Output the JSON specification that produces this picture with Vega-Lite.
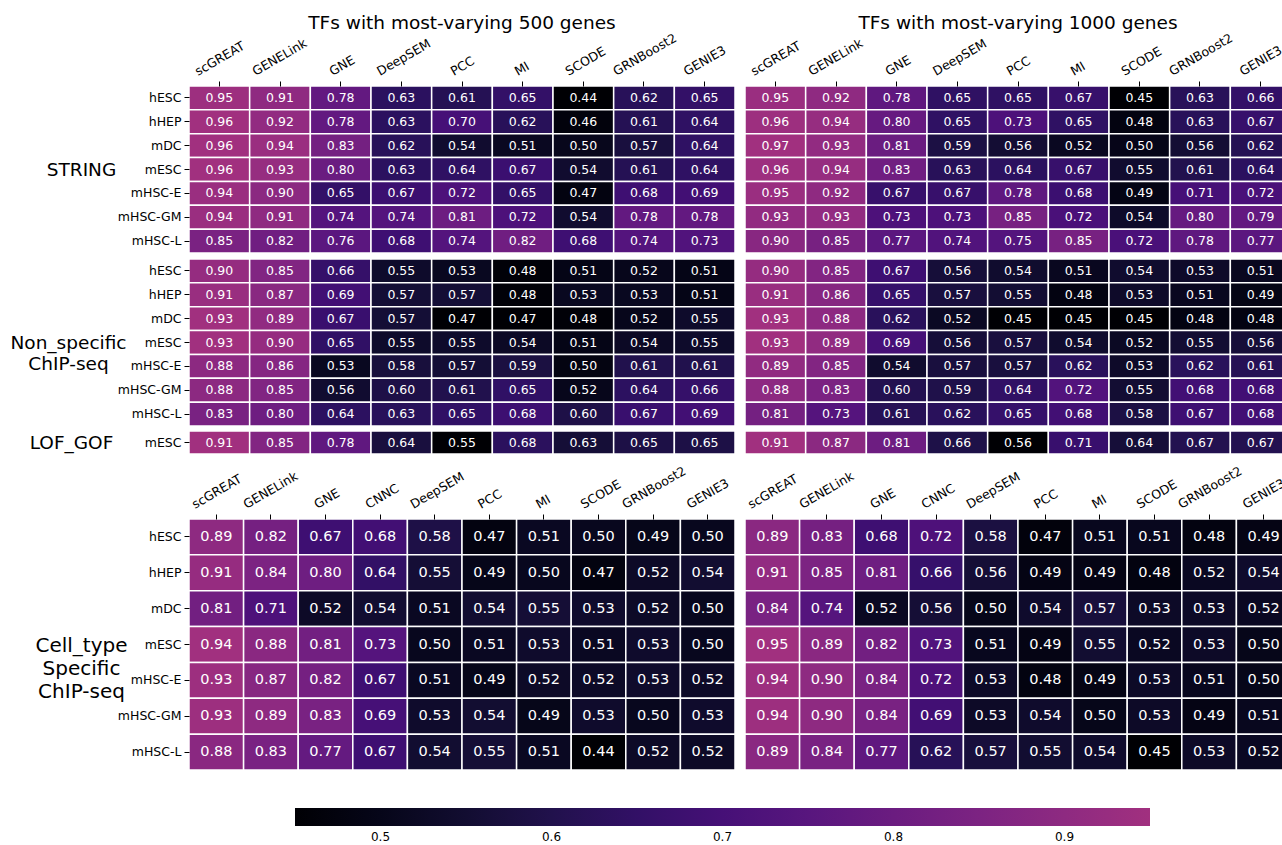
{
  "$schema": "https://vega.github.io/schema/vega-lite/v6.json",
  "padding": {"left": 9, "top": 13, "right": 0, "bottom": 0},
  "config": {
    "font": "DejaVu Sans",
    "view": {"stroke": null},
    "axis": {"domain": false, "grid": false, "tickColor": "#000", "labelColor": "#000", "tickSize": 5, "labelFontSize": 12.5, "labelPadding": 3, "titleFontWeight": "normal", "titleColor": "#000", "labelOverlap": false},
    "title": {"fontSize": 18.5, "fontWeight": "normal", "color": "#000"},
    "legend": {"labelColor": "#000"}
  },
  "datasets": {
    "s500": [
      {"c":"hESC","m":"scGREAT","v":0.95},{"c":"hESC","m":"GENELink","v":0.91},{"c":"hESC","m":"GNE","v":0.78},{"c":"hESC","m":"DeepSEM","v":0.63},{"c":"hESC","m":"PCC","v":0.61},{"c":"hESC","m":"MI","v":0.65},{"c":"hESC","m":"SCODE","v":0.44},{"c":"hESC","m":"GRNBoost2","v":0.62},{"c":"hESC","m":"GENIE3","v":0.65},
      {"c":"hHEP","m":"scGREAT","v":0.96},{"c":"hHEP","m":"GENELink","v":0.92},{"c":"hHEP","m":"GNE","v":0.78},{"c":"hHEP","m":"DeepSEM","v":0.63},{"c":"hHEP","m":"PCC","v":0.70},{"c":"hHEP","m":"MI","v":0.62},{"c":"hHEP","m":"SCODE","v":0.46},{"c":"hHEP","m":"GRNBoost2","v":0.61},{"c":"hHEP","m":"GENIE3","v":0.64},
      {"c":"mDC","m":"scGREAT","v":0.96},{"c":"mDC","m":"GENELink","v":0.94},{"c":"mDC","m":"GNE","v":0.83},{"c":"mDC","m":"DeepSEM","v":0.62},{"c":"mDC","m":"PCC","v":0.54},{"c":"mDC","m":"MI","v":0.51},{"c":"mDC","m":"SCODE","v":0.50},{"c":"mDC","m":"GRNBoost2","v":0.57},{"c":"mDC","m":"GENIE3","v":0.64},
      {"c":"mESC","m":"scGREAT","v":0.96},{"c":"mESC","m":"GENELink","v":0.93},{"c":"mESC","m":"GNE","v":0.80},{"c":"mESC","m":"DeepSEM","v":0.63},{"c":"mESC","m":"PCC","v":0.64},{"c":"mESC","m":"MI","v":0.67},{"c":"mESC","m":"SCODE","v":0.54},{"c":"mESC","m":"GRNBoost2","v":0.61},{"c":"mESC","m":"GENIE3","v":0.64},
      {"c":"mHSC-E","m":"scGREAT","v":0.94},{"c":"mHSC-E","m":"GENELink","v":0.90},{"c":"mHSC-E","m":"GNE","v":0.65},{"c":"mHSC-E","m":"DeepSEM","v":0.67},{"c":"mHSC-E","m":"PCC","v":0.72},{"c":"mHSC-E","m":"MI","v":0.65},{"c":"mHSC-E","m":"SCODE","v":0.47},{"c":"mHSC-E","m":"GRNBoost2","v":0.68},{"c":"mHSC-E","m":"GENIE3","v":0.69},
      {"c":"mHSC-GM","m":"scGREAT","v":0.94},{"c":"mHSC-GM","m":"GENELink","v":0.91},{"c":"mHSC-GM","m":"GNE","v":0.74},{"c":"mHSC-GM","m":"DeepSEM","v":0.74},{"c":"mHSC-GM","m":"PCC","v":0.81},{"c":"mHSC-GM","m":"MI","v":0.72},{"c":"mHSC-GM","m":"SCODE","v":0.54},{"c":"mHSC-GM","m":"GRNBoost2","v":0.78},{"c":"mHSC-GM","m":"GENIE3","v":0.78},
      {"c":"mHSC-L","m":"scGREAT","v":0.85},{"c":"mHSC-L","m":"GENELink","v":0.82},{"c":"mHSC-L","m":"GNE","v":0.76},{"c":"mHSC-L","m":"DeepSEM","v":0.68},{"c":"mHSC-L","m":"PCC","v":0.74},{"c":"mHSC-L","m":"MI","v":0.82},{"c":"mHSC-L","m":"SCODE","v":0.68},{"c":"mHSC-L","m":"GRNBoost2","v":0.74},{"c":"mHSC-L","m":"GENIE3","v":0.73}
    ],
    "s1000": [
      {"c":"hESC","m":"scGREAT","v":0.95},{"c":"hESC","m":"GENELink","v":0.92},{"c":"hESC","m":"GNE","v":0.78},{"c":"hESC","m":"DeepSEM","v":0.65},{"c":"hESC","m":"PCC","v":0.65},{"c":"hESC","m":"MI","v":0.67},{"c":"hESC","m":"SCODE","v":0.45},{"c":"hESC","m":"GRNBoost2","v":0.63},{"c":"hESC","m":"GENIE3","v":0.66},
      {"c":"hHEP","m":"scGREAT","v":0.96},{"c":"hHEP","m":"GENELink","v":0.94},{"c":"hHEP","m":"GNE","v":0.80},{"c":"hHEP","m":"DeepSEM","v":0.65},{"c":"hHEP","m":"PCC","v":0.73},{"c":"hHEP","m":"MI","v":0.65},{"c":"hHEP","m":"SCODE","v":0.48},{"c":"hHEP","m":"GRNBoost2","v":0.63},{"c":"hHEP","m":"GENIE3","v":0.67},
      {"c":"mDC","m":"scGREAT","v":0.97},{"c":"mDC","m":"GENELink","v":0.93},{"c":"mDC","m":"GNE","v":0.81},{"c":"mDC","m":"DeepSEM","v":0.59},{"c":"mDC","m":"PCC","v":0.56},{"c":"mDC","m":"MI","v":0.52},{"c":"mDC","m":"SCODE","v":0.50},{"c":"mDC","m":"GRNBoost2","v":0.56},{"c":"mDC","m":"GENIE3","v":0.62},
      {"c":"mESC","m":"scGREAT","v":0.96},{"c":"mESC","m":"GENELink","v":0.94},{"c":"mESC","m":"GNE","v":0.83},{"c":"mESC","m":"DeepSEM","v":0.63},{"c":"mESC","m":"PCC","v":0.64},{"c":"mESC","m":"MI","v":0.67},{"c":"mESC","m":"SCODE","v":0.55},{"c":"mESC","m":"GRNBoost2","v":0.61},{"c":"mESC","m":"GENIE3","v":0.64},
      {"c":"mHSC-E","m":"scGREAT","v":0.95},{"c":"mHSC-E","m":"GENELink","v":0.92},{"c":"mHSC-E","m":"GNE","v":0.67},{"c":"mHSC-E","m":"DeepSEM","v":0.67},{"c":"mHSC-E","m":"PCC","v":0.78},{"c":"mHSC-E","m":"MI","v":0.68},{"c":"mHSC-E","m":"SCODE","v":0.49},{"c":"mHSC-E","m":"GRNBoost2","v":0.71},{"c":"mHSC-E","m":"GENIE3","v":0.72},
      {"c":"mHSC-GM","m":"scGREAT","v":0.93},{"c":"mHSC-GM","m":"GENELink","v":0.93},{"c":"mHSC-GM","m":"GNE","v":0.73},{"c":"mHSC-GM","m":"DeepSEM","v":0.73},{"c":"mHSC-GM","m":"PCC","v":0.85},{"c":"mHSC-GM","m":"MI","v":0.72},{"c":"mHSC-GM","m":"SCODE","v":0.54},{"c":"mHSC-GM","m":"GRNBoost2","v":0.80},{"c":"mHSC-GM","m":"GENIE3","v":0.79},
      {"c":"mHSC-L","m":"scGREAT","v":0.90},{"c":"mHSC-L","m":"GENELink","v":0.85},{"c":"mHSC-L","m":"GNE","v":0.77},{"c":"mHSC-L","m":"DeepSEM","v":0.74},{"c":"mHSC-L","m":"PCC","v":0.75},{"c":"mHSC-L","m":"MI","v":0.85},{"c":"mHSC-L","m":"SCODE","v":0.72},{"c":"mHSC-L","m":"GRNBoost2","v":0.78},{"c":"mHSC-L","m":"GENIE3","v":0.77}
    ],
    "n500": [
      {"c":"hESC","m":"scGREAT","v":0.90},{"c":"hESC","m":"GENELink","v":0.85},{"c":"hESC","m":"GNE","v":0.66},{"c":"hESC","m":"DeepSEM","v":0.55},{"c":"hESC","m":"PCC","v":0.53},{"c":"hESC","m":"MI","v":0.48},{"c":"hESC","m":"SCODE","v":0.51},{"c":"hESC","m":"GRNBoost2","v":0.52},{"c":"hESC","m":"GENIE3","v":0.51},
      {"c":"hHEP","m":"scGREAT","v":0.91},{"c":"hHEP","m":"GENELink","v":0.87},{"c":"hHEP","m":"GNE","v":0.69},{"c":"hHEP","m":"DeepSEM","v":0.57},{"c":"hHEP","m":"PCC","v":0.57},{"c":"hHEP","m":"MI","v":0.48},{"c":"hHEP","m":"SCODE","v":0.53},{"c":"hHEP","m":"GRNBoost2","v":0.53},{"c":"hHEP","m":"GENIE3","v":0.51},
      {"c":"mDC","m":"scGREAT","v":0.93},{"c":"mDC","m":"GENELink","v":0.89},{"c":"mDC","m":"GNE","v":0.67},{"c":"mDC","m":"DeepSEM","v":0.57},{"c":"mDC","m":"PCC","v":0.47},{"c":"mDC","m":"MI","v":0.47},{"c":"mDC","m":"SCODE","v":0.48},{"c":"mDC","m":"GRNBoost2","v":0.52},{"c":"mDC","m":"GENIE3","v":0.55},
      {"c":"mESC","m":"scGREAT","v":0.93},{"c":"mESC","m":"GENELink","v":0.90},{"c":"mESC","m":"GNE","v":0.65},{"c":"mESC","m":"DeepSEM","v":0.55},{"c":"mESC","m":"PCC","v":0.55},{"c":"mESC","m":"MI","v":0.54},{"c":"mESC","m":"SCODE","v":0.51},{"c":"mESC","m":"GRNBoost2","v":0.54},{"c":"mESC","m":"GENIE3","v":0.55},
      {"c":"mHSC-E","m":"scGREAT","v":0.88},{"c":"mHSC-E","m":"GENELink","v":0.86},{"c":"mHSC-E","m":"GNE","v":0.53},{"c":"mHSC-E","m":"DeepSEM","v":0.58},{"c":"mHSC-E","m":"PCC","v":0.57},{"c":"mHSC-E","m":"MI","v":0.59},{"c":"mHSC-E","m":"SCODE","v":0.50},{"c":"mHSC-E","m":"GRNBoost2","v":0.61},{"c":"mHSC-E","m":"GENIE3","v":0.61},
      {"c":"mHSC-GM","m":"scGREAT","v":0.88},{"c":"mHSC-GM","m":"GENELink","v":0.85},{"c":"mHSC-GM","m":"GNE","v":0.56},{"c":"mHSC-GM","m":"DeepSEM","v":0.60},{"c":"mHSC-GM","m":"PCC","v":0.61},{"c":"mHSC-GM","m":"MI","v":0.65},{"c":"mHSC-GM","m":"SCODE","v":0.52},{"c":"mHSC-GM","m":"GRNBoost2","v":0.64},{"c":"mHSC-GM","m":"GENIE3","v":0.66},
      {"c":"mHSC-L","m":"scGREAT","v":0.83},{"c":"mHSC-L","m":"GENELink","v":0.80},{"c":"mHSC-L","m":"GNE","v":0.64},{"c":"mHSC-L","m":"DeepSEM","v":0.63},{"c":"mHSC-L","m":"PCC","v":0.65},{"c":"mHSC-L","m":"MI","v":0.68},{"c":"mHSC-L","m":"SCODE","v":0.60},{"c":"mHSC-L","m":"GRNBoost2","v":0.67},{"c":"mHSC-L","m":"GENIE3","v":0.69}
    ],
    "n1000": [
      {"c":"hESC","m":"scGREAT","v":0.90},{"c":"hESC","m":"GENELink","v":0.85},{"c":"hESC","m":"GNE","v":0.67},{"c":"hESC","m":"DeepSEM","v":0.56},{"c":"hESC","m":"PCC","v":0.54},{"c":"hESC","m":"MI","v":0.51},{"c":"hESC","m":"SCODE","v":0.54},{"c":"hESC","m":"GRNBoost2","v":0.53},{"c":"hESC","m":"GENIE3","v":0.51},
      {"c":"hHEP","m":"scGREAT","v":0.91},{"c":"hHEP","m":"GENELink","v":0.86},{"c":"hHEP","m":"GNE","v":0.65},{"c":"hHEP","m":"DeepSEM","v":0.57},{"c":"hHEP","m":"PCC","v":0.55},{"c":"hHEP","m":"MI","v":0.48},{"c":"hHEP","m":"SCODE","v":0.53},{"c":"hHEP","m":"GRNBoost2","v":0.51},{"c":"hHEP","m":"GENIE3","v":0.49},
      {"c":"mDC","m":"scGREAT","v":0.93},{"c":"mDC","m":"GENELink","v":0.88},{"c":"mDC","m":"GNE","v":0.62},{"c":"mDC","m":"DeepSEM","v":0.52},{"c":"mDC","m":"PCC","v":0.45},{"c":"mDC","m":"MI","v":0.45},{"c":"mDC","m":"SCODE","v":0.45},{"c":"mDC","m":"GRNBoost2","v":0.48},{"c":"mDC","m":"GENIE3","v":0.48},
      {"c":"mESC","m":"scGREAT","v":0.93},{"c":"mESC","m":"GENELink","v":0.89},{"c":"mESC","m":"GNE","v":0.69},{"c":"mESC","m":"DeepSEM","v":0.56},{"c":"mESC","m":"PCC","v":0.57},{"c":"mESC","m":"MI","v":0.54},{"c":"mESC","m":"SCODE","v":0.52},{"c":"mESC","m":"GRNBoost2","v":0.55},{"c":"mESC","m":"GENIE3","v":0.56},
      {"c":"mHSC-E","m":"scGREAT","v":0.89},{"c":"mHSC-E","m":"GENELink","v":0.85},{"c":"mHSC-E","m":"GNE","v":0.54},{"c":"mHSC-E","m":"DeepSEM","v":0.57},{"c":"mHSC-E","m":"PCC","v":0.57},{"c":"mHSC-E","m":"MI","v":0.62},{"c":"mHSC-E","m":"SCODE","v":0.53},{"c":"mHSC-E","m":"GRNBoost2","v":0.62},{"c":"mHSC-E","m":"GENIE3","v":0.61},
      {"c":"mHSC-GM","m":"scGREAT","v":0.88},{"c":"mHSC-GM","m":"GENELink","v":0.83},{"c":"mHSC-GM","m":"GNE","v":0.60},{"c":"mHSC-GM","m":"DeepSEM","v":0.59},{"c":"mHSC-GM","m":"PCC","v":0.64},{"c":"mHSC-GM","m":"MI","v":0.72},{"c":"mHSC-GM","m":"SCODE","v":0.55},{"c":"mHSC-GM","m":"GRNBoost2","v":0.68},{"c":"mHSC-GM","m":"GENIE3","v":0.68},
      {"c":"mHSC-L","m":"scGREAT","v":0.81},{"c":"mHSC-L","m":"GENELink","v":0.73},{"c":"mHSC-L","m":"GNE","v":0.61},{"c":"mHSC-L","m":"DeepSEM","v":0.62},{"c":"mHSC-L","m":"PCC","v":0.65},{"c":"mHSC-L","m":"MI","v":0.68},{"c":"mHSC-L","m":"SCODE","v":0.58},{"c":"mHSC-L","m":"GRNBoost2","v":0.67},{"c":"mHSC-L","m":"GENIE3","v":0.68}
    ],
    "l500": [
      {"c":"mESC","m":"scGREAT","v":0.91},{"c":"mESC","m":"GENELink","v":0.85},{"c":"mESC","m":"GNE","v":0.78},{"c":"mESC","m":"DeepSEM","v":0.64},{"c":"mESC","m":"PCC","v":0.55},{"c":"mESC","m":"MI","v":0.68},{"c":"mESC","m":"SCODE","v":0.63},{"c":"mESC","m":"GRNBoost2","v":0.65},{"c":"mESC","m":"GENIE3","v":0.65}
    ],
    "l1000": [
      {"c":"mESC","m":"scGREAT","v":0.91},{"c":"mESC","m":"GENELink","v":0.87},{"c":"mESC","m":"GNE","v":0.81},{"c":"mESC","m":"DeepSEM","v":0.66},{"c":"mESC","m":"PCC","v":0.56},{"c":"mESC","m":"MI","v":0.71},{"c":"mESC","m":"SCODE","v":0.64},{"c":"mESC","m":"GRNBoost2","v":0.67},{"c":"mESC","m":"GENIE3","v":0.67}
    ],
    "c500": [
      {"c":"hESC","m":"scGREAT","v":0.89},{"c":"hESC","m":"GENELink","v":0.82},{"c":"hESC","m":"GNE","v":0.67},{"c":"hESC","m":"CNNC","v":0.68},{"c":"hESC","m":"DeepSEM","v":0.58},{"c":"hESC","m":"PCC","v":0.47},{"c":"hESC","m":"MI","v":0.51},{"c":"hESC","m":"SCODE","v":0.50},{"c":"hESC","m":"GRNBoost2","v":0.49},{"c":"hESC","m":"GENIE3","v":0.50},
      {"c":"hHEP","m":"scGREAT","v":0.91},{"c":"hHEP","m":"GENELink","v":0.84},{"c":"hHEP","m":"GNE","v":0.80},{"c":"hHEP","m":"CNNC","v":0.64},{"c":"hHEP","m":"DeepSEM","v":0.55},{"c":"hHEP","m":"PCC","v":0.49},{"c":"hHEP","m":"MI","v":0.50},{"c":"hHEP","m":"SCODE","v":0.47},{"c":"hHEP","m":"GRNBoost2","v":0.52},{"c":"hHEP","m":"GENIE3","v":0.54},
      {"c":"mDC","m":"scGREAT","v":0.81},{"c":"mDC","m":"GENELink","v":0.71},{"c":"mDC","m":"GNE","v":0.52},{"c":"mDC","m":"CNNC","v":0.54},{"c":"mDC","m":"DeepSEM","v":0.51},{"c":"mDC","m":"PCC","v":0.54},{"c":"mDC","m":"MI","v":0.55},{"c":"mDC","m":"SCODE","v":0.53},{"c":"mDC","m":"GRNBoost2","v":0.52},{"c":"mDC","m":"GENIE3","v":0.50},
      {"c":"mESC","m":"scGREAT","v":0.94},{"c":"mESC","m":"GENELink","v":0.88},{"c":"mESC","m":"GNE","v":0.81},{"c":"mESC","m":"CNNC","v":0.73},{"c":"mESC","m":"DeepSEM","v":0.50},{"c":"mESC","m":"PCC","v":0.51},{"c":"mESC","m":"MI","v":0.53},{"c":"mESC","m":"SCODE","v":0.51},{"c":"mESC","m":"GRNBoost2","v":0.53},{"c":"mESC","m":"GENIE3","v":0.50},
      {"c":"mHSC-E","m":"scGREAT","v":0.93},{"c":"mHSC-E","m":"GENELink","v":0.87},{"c":"mHSC-E","m":"GNE","v":0.82},{"c":"mHSC-E","m":"CNNC","v":0.67},{"c":"mHSC-E","m":"DeepSEM","v":0.51},{"c":"mHSC-E","m":"PCC","v":0.49},{"c":"mHSC-E","m":"MI","v":0.52},{"c":"mHSC-E","m":"SCODE","v":0.52},{"c":"mHSC-E","m":"GRNBoost2","v":0.53},{"c":"mHSC-E","m":"GENIE3","v":0.52},
      {"c":"mHSC-GM","m":"scGREAT","v":0.93},{"c":"mHSC-GM","m":"GENELink","v":0.89},{"c":"mHSC-GM","m":"GNE","v":0.83},{"c":"mHSC-GM","m":"CNNC","v":0.69},{"c":"mHSC-GM","m":"DeepSEM","v":0.53},{"c":"mHSC-GM","m":"PCC","v":0.54},{"c":"mHSC-GM","m":"MI","v":0.49},{"c":"mHSC-GM","m":"SCODE","v":0.53},{"c":"mHSC-GM","m":"GRNBoost2","v":0.50},{"c":"mHSC-GM","m":"GENIE3","v":0.53},
      {"c":"mHSC-L","m":"scGREAT","v":0.88},{"c":"mHSC-L","m":"GENELink","v":0.83},{"c":"mHSC-L","m":"GNE","v":0.77},{"c":"mHSC-L","m":"CNNC","v":0.67},{"c":"mHSC-L","m":"DeepSEM","v":0.54},{"c":"mHSC-L","m":"PCC","v":0.55},{"c":"mHSC-L","m":"MI","v":0.51},{"c":"mHSC-L","m":"SCODE","v":0.44},{"c":"mHSC-L","m":"GRNBoost2","v":0.52},{"c":"mHSC-L","m":"GENIE3","v":0.52}
    ],
    "c1000": [
      {"c":"hESC","m":"scGREAT","v":0.89},{"c":"hESC","m":"GENELink","v":0.83},{"c":"hESC","m":"GNE","v":0.68},{"c":"hESC","m":"CNNC","v":0.72},{"c":"hESC","m":"DeepSEM","v":0.58},{"c":"hESC","m":"PCC","v":0.47},{"c":"hESC","m":"MI","v":0.51},{"c":"hESC","m":"SCODE","v":0.51},{"c":"hESC","m":"GRNBoost2","v":0.48},{"c":"hESC","m":"GENIE3","v":0.49},
      {"c":"hHEP","m":"scGREAT","v":0.91},{"c":"hHEP","m":"GENELink","v":0.85},{"c":"hHEP","m":"GNE","v":0.81},{"c":"hHEP","m":"CNNC","v":0.66},{"c":"hHEP","m":"DeepSEM","v":0.56},{"c":"hHEP","m":"PCC","v":0.49},{"c":"hHEP","m":"MI","v":0.49},{"c":"hHEP","m":"SCODE","v":0.48},{"c":"hHEP","m":"GRNBoost2","v":0.52},{"c":"hHEP","m":"GENIE3","v":0.54},
      {"c":"mDC","m":"scGREAT","v":0.84},{"c":"mDC","m":"GENELink","v":0.74},{"c":"mDC","m":"GNE","v":0.52},{"c":"mDC","m":"CNNC","v":0.56},{"c":"mDC","m":"DeepSEM","v":0.50},{"c":"mDC","m":"PCC","v":0.54},{"c":"mDC","m":"MI","v":0.57},{"c":"mDC","m":"SCODE","v":0.53},{"c":"mDC","m":"GRNBoost2","v":0.53},{"c":"mDC","m":"GENIE3","v":0.52},
      {"c":"mESC","m":"scGREAT","v":0.95},{"c":"mESC","m":"GENELink","v":0.89},{"c":"mESC","m":"GNE","v":0.82},{"c":"mESC","m":"CNNC","v":0.73},{"c":"mESC","m":"DeepSEM","v":0.51},{"c":"mESC","m":"PCC","v":0.49},{"c":"mESC","m":"MI","v":0.55},{"c":"mESC","m":"SCODE","v":0.52},{"c":"mESC","m":"GRNBoost2","v":0.53},{"c":"mESC","m":"GENIE3","v":0.50},
      {"c":"mHSC-E","m":"scGREAT","v":0.94},{"c":"mHSC-E","m":"GENELink","v":0.90},{"c":"mHSC-E","m":"GNE","v":0.84},{"c":"mHSC-E","m":"CNNC","v":0.72},{"c":"mHSC-E","m":"DeepSEM","v":0.53},{"c":"mHSC-E","m":"PCC","v":0.48},{"c":"mHSC-E","m":"MI","v":0.49},{"c":"mHSC-E","m":"SCODE","v":0.53},{"c":"mHSC-E","m":"GRNBoost2","v":0.51},{"c":"mHSC-E","m":"GENIE3","v":0.50},
      {"c":"mHSC-GM","m":"scGREAT","v":0.94},{"c":"mHSC-GM","m":"GENELink","v":0.90},{"c":"mHSC-GM","m":"GNE","v":0.84},{"c":"mHSC-GM","m":"CNNC","v":0.69},{"c":"mHSC-GM","m":"DeepSEM","v":0.53},{"c":"mHSC-GM","m":"PCC","v":0.54},{"c":"mHSC-GM","m":"MI","v":0.50},{"c":"mHSC-GM","m":"SCODE","v":0.53},{"c":"mHSC-GM","m":"GRNBoost2","v":0.49},{"c":"mHSC-GM","m":"GENIE3","v":0.51},
      {"c":"mHSC-L","m":"scGREAT","v":0.89},{"c":"mHSC-L","m":"GENELink","v":0.84},{"c":"mHSC-L","m":"GNE","v":0.77},{"c":"mHSC-L","m":"CNNC","v":0.62},{"c":"mHSC-L","m":"DeepSEM","v":0.57},{"c":"mHSC-L","m":"PCC","v":0.55},{"c":"mHSC-L","m":"MI","v":0.54},{"c":"mHSC-L","m":"SCODE","v":0.45},{"c":"mHSC-L","m":"GRNBoost2","v":0.53},{"c":"mHSC-L","m":"GENIE3","v":0.52}
    ]
  },
  "vconcat": [
    {
      "vconcat": [
        {
          "vconcat": [
            {
              "hconcat": [
                {
                  "data": {"name": "s500"},
                  "width": 546, "height": 167,
                  "title": {"text": "TFs with most-varying 500 genes", "frame": "group", "anchor": "middle", "offset": -1},
                  "encoding": {
                    "x": {"field": "m", "type": "nominal", "sort": ["scGREAT","GENELink","GNE","DeepSEM","PCC","MI","SCODE","GRNBoost2","GENIE3"],
                          "axis": {"orient": "top", "title": null, "labelAngle": -30, "labelAlign": "left", "labelBaseline": "bottom", "labelOffset": {"expr": "-3.25*length(datum.label)+3"}}},
                    "y": {"field": "c", "type": "nominal", "sort": ["hESC","hHEP","mDC","mESC","mHSC-E","mHSC-GM","mHSC-L"],
                          "axis": {"title": "STRING", "titleAngle": 0, "titleFontSize": 18.5, "titleAlign": "center", "titleBaseline": "middle", "titleX": -108, "titleY": 83}}
                  },
                  "layer": [
                    {"mark": {"type": "rect", "stroke": "white", "strokeWidth": 1.5},
                     "encoding": {"color": {"field": "v", "type": "quantitative", "scale": {"scheme": {"name": "magma", "extent": [0, 0.45]}, "nice": false, "zero": false}, "legend": null}}},
                    {"mark": {"type": "text", "fontSize": 12.5, "fill": "white"},
                     "encoding": {"text": {"field": "v", "type": "quantitative", "format": ".2f"}}}
                  ]
                },
                {
                  "data": {"name": "s1000"},
                  "width": 546, "height": 167,
                  "title": {"text": "TFs with most-varying 1000 genes", "frame": "group", "anchor": "middle", "offset": -1},
                  "encoding": {
                    "x": {"field": "m", "type": "nominal", "sort": ["scGREAT","GENELink","GNE","DeepSEM","PCC","MI","SCODE","GRNBoost2","GENIE3"],
                          "axis": {"orient": "top", "title": null, "labelAngle": -30, "labelAlign": "left", "labelBaseline": "bottom", "labelOffset": {"expr": "-3.25*length(datum.label)+3"}}},
                    "y": {"field": "c", "type": "nominal", "sort": ["hESC","hHEP","mDC","mESC","mHSC-E","mHSC-GM","mHSC-L"], "axis": null}
                  },
                  "layer": [
                    {"mark": {"type": "rect", "stroke": "white", "strokeWidth": 1.5},
                     "encoding": {"color": {"field": "v", "type": "quantitative", "scale": {"scheme": {"name": "magma", "extent": [0, 0.45]}, "nice": false, "zero": false}, "legend": null}}},
                    {"mark": {"type": "text", "fontSize": 12.5, "fill": "white"},
                     "encoding": {"text": {"field": "v", "type": "quantitative", "format": ".2f"}}}
                  ]
                }
              ],
              "spacing": 10, "bounds": "flush",
              "resolve": {"scale": {"x": "independent", "y": "independent", "color": "independent"}, "legend": {"color": "independent"}}
            },
            {
              "hconcat": [
                {
                  "data": {"name": "n500"},
                  "width": 546, "height": 167,
                  "encoding": {
                    "x": {"field": "m", "type": "nominal", "sort": ["scGREAT","GENELink","GNE","DeepSEM","PCC","MI","SCODE","GRNBoost2","GENIE3"], "axis": null},
                    "y": {"field": "c", "type": "nominal", "sort": ["hESC","hHEP","mDC","mESC","mHSC-E","mHSC-GM","mHSC-L"],
                          "axis": {"title": ["Non_specific", "ChIP-seq"], "titleAngle": 0, "titleFontSize": 18.5, "titleLineHeight": 21, "titleAlign": "center", "titleBaseline": "middle", "titleX": -121, "titleY": 83}}
                  },
                  "layer": [
                    {"mark": {"type": "rect", "stroke": "white", "strokeWidth": 1.5},
                     "encoding": {"color": {"field": "v", "type": "quantitative", "scale": {"scheme": {"name": "magma", "extent": [0, 0.45]}, "nice": false, "zero": false}, "legend": null}}},
                    {"mark": {"type": "text", "fontSize": 12.5, "fill": "white"},
                     "encoding": {"text": {"field": "v", "type": "quantitative", "format": ".2f"}}}
                  ]
                },
                {
                  "data": {"name": "n1000"},
                  "width": 546, "height": 167,
                  "encoding": {
                    "x": {"field": "m", "type": "nominal", "sort": ["scGREAT","GENELink","GNE","DeepSEM","PCC","MI","SCODE","GRNBoost2","GENIE3"], "axis": null},
                    "y": {"field": "c", "type": "nominal", "sort": ["hESC","hHEP","mDC","mESC","mHSC-E","mHSC-GM","mHSC-L"], "axis": null}
                  },
                  "layer": [
                    {"mark": {"type": "rect", "stroke": "white", "strokeWidth": 1.5},
                     "encoding": {"color": {"field": "v", "type": "quantitative", "scale": {"scheme": {"name": "magma", "extent": [0, 0.45]}, "nice": false, "zero": false}, "legend": null}}},
                    {"mark": {"type": "text", "fontSize": 12.5, "fill": "white"},
                     "encoding": {"text": {"field": "v", "type": "quantitative", "format": ".2f"}}}
                  ]
                }
              ],
              "spacing": 10, "bounds": "flush",
              "resolve": {"scale": {"x": "independent", "y": "independent", "color": "independent"}, "legend": {"color": "independent"}}
            }
          ],
          "spacing": 4,
          "resolve": {"scale": {"x": "independent", "y": "independent", "color": "independent"}, "legend": {"color": "independent"}}
        },
        {
          "hconcat": [
            {
              "data": {"name": "l500"},
              "width": 546, "height": 23,
              "encoding": {
                "x": {"field": "m", "type": "nominal", "sort": ["scGREAT","GENELink","GNE","DeepSEM","PCC","MI","SCODE","GRNBoost2","GENIE3"], "axis": null},
                "y": {"field": "c", "type": "nominal", "sort": ["mESC"],
                      "axis": {"title": "LOF_GOF", "titleAngle": 0, "titleFontSize": 18.5, "titleAlign": "center", "titleBaseline": "middle", "titleX": -118, "titleY": 11}}
              },
              "layer": [
                {"mark": {"type": "rect", "stroke": "white", "strokeWidth": 1.5},
                 "encoding": {"color": {"field": "v", "type": "quantitative", "scale": {"scheme": {"name": "magma", "extent": [0, 0.45]}, "nice": false, "zero": false}, "legend": null}}},
                {"mark": {"type": "text", "fontSize": 12.5, "fill": "white"},
                 "encoding": {"text": {"field": "v", "type": "quantitative", "format": ".2f"}}}
              ]
            },
            {
              "data": {"name": "l1000"},
              "width": 546, "height": 23,
              "encoding": {
                "x": {"field": "m", "type": "nominal", "sort": ["scGREAT","GENELink","GNE","DeepSEM","PCC","MI","SCODE","GRNBoost2","GENIE3"], "axis": null},
                "y": {"field": "c", "type": "nominal", "sort": ["mESC"], "axis": null}
              },
              "layer": [
                {"mark": {"type": "rect", "stroke": "white", "strokeWidth": 1.5},
                 "encoding": {"color": {"field": "v", "type": "quantitative", "scale": {"scheme": {"name": "magma", "extent": [0, 0.45]}, "nice": false, "zero": false}, "legend": null}}},
                {"mark": {"type": "text", "fontSize": 12.5, "fill": "white"},
                 "encoding": {"text": {"field": "v", "type": "quantitative", "format": ".2f"}}}
              ]
            }
          ],
          "spacing": 10, "bounds": "flush",
          "resolve": {"scale": {"x": "independent", "y": "independent", "color": "independent"}, "legend": {"color": "independent"}}
        }
      ],
      "spacing": 3,
      "resolve": {"scale": {"x": "independent", "y": "independent", "color": "independent"}, "legend": {"color": "independent"}}
    },
    {
      "hconcat": [
        {
          "data": {"name": "c500"},
          "width": 546, "height": 251,
          "encoding": {
            "x": {"field": "m", "type": "nominal", "sort": ["scGREAT","GENELink","GNE","CNNC","DeepSEM","PCC","MI","SCODE","GRNBoost2","GENIE3"],
                  "axis": {"orient": "top", "title": null, "labelAngle": -30, "labelAlign": "left", "labelBaseline": "bottom", "labelOffset": {"expr": "-3.25*length(datum.label)+3"}}},
            "y": {"field": "c", "type": "nominal", "sort": ["hESC","hHEP","mDC","mESC","mHSC-E","mHSC-GM","mHSC-L"],
                  "axis": {"title": ["Cell_type", "Specific", "ChIP-seq"], "titleAngle": 0, "titleFontSize": 20, "titleLineHeight": 23, "titleAlign": "center", "titleBaseline": "middle", "titleX": -108, "titleY": 126}}
          },
          "layer": [
            {"mark": {"type": "rect", "stroke": "white", "strokeWidth": 1.5},
             "encoding": {"color": {"field": "v", "type": "quantitative", "scale": {"scheme": {"name": "magma", "extent": [0, 0.45]}, "nice": false, "zero": false}, "legend": null}}},
            {"mark": {"type": "text", "fontSize": 14.5, "fill": "white"},
             "encoding": {"text": {"field": "v", "type": "quantitative", "format": ".2f"}}}
          ]
        },
        {
          "data": {"name": "c1000"},
          "width": 546, "height": 251,
          "encoding": {
            "x": {"field": "m", "type": "nominal", "sort": ["scGREAT","GENELink","GNE","CNNC","DeepSEM","PCC","MI","SCODE","GRNBoost2","GENIE3"],
                  "axis": {"orient": "top", "title": null, "labelAngle": -30, "labelAlign": "left", "labelBaseline": "bottom", "labelOffset": {"expr": "-3.25*length(datum.label)+3"}}},
            "y": {"field": "c", "type": "nominal", "sort": ["hESC","hHEP","mDC","mESC","mHSC-E","mHSC-GM","mHSC-L"], "axis": null}
          },
          "layer": [
            {"mark": {"type": "rect", "stroke": "white", "strokeWidth": 1.5},
             "encoding": {"color": {"field": "v", "type": "quantitative", "scale": {"scheme": {"name": "magma", "extent": [0, 0.45]}, "nice": false, "zero": false},
                                    "legend": {"orient": "none", "legendX": -450, "legendY": 289, "direction": "horizontal", "title": null, "gradientLength": 855, "gradientThickness": 18, "gradientStrokeWidth": 0, "values": [0.5, 0.6, 0.7, 0.8, 0.9], "format": ".1f", "labelFontSize": 12, "labelOffset": 6, "padding": 0}}}},
            {"mark": {"type": "text", "fontSize": 14.5, "fill": "white"},
             "encoding": {"text": {"field": "v", "type": "quantitative", "format": ".2f"}}}
          ]
        }
      ],
      "spacing": 10, "bounds": "flush",
      "resolve": {"scale": {"x": "independent", "y": "independent", "color": "independent"}, "legend": {"color": "independent"}}
    }
  ],
  "spacing": 9,
  "resolve": {"scale": {"x": "independent", "y": "independent", "color": "independent"}, "legend": {"color": "independent"}}
}
